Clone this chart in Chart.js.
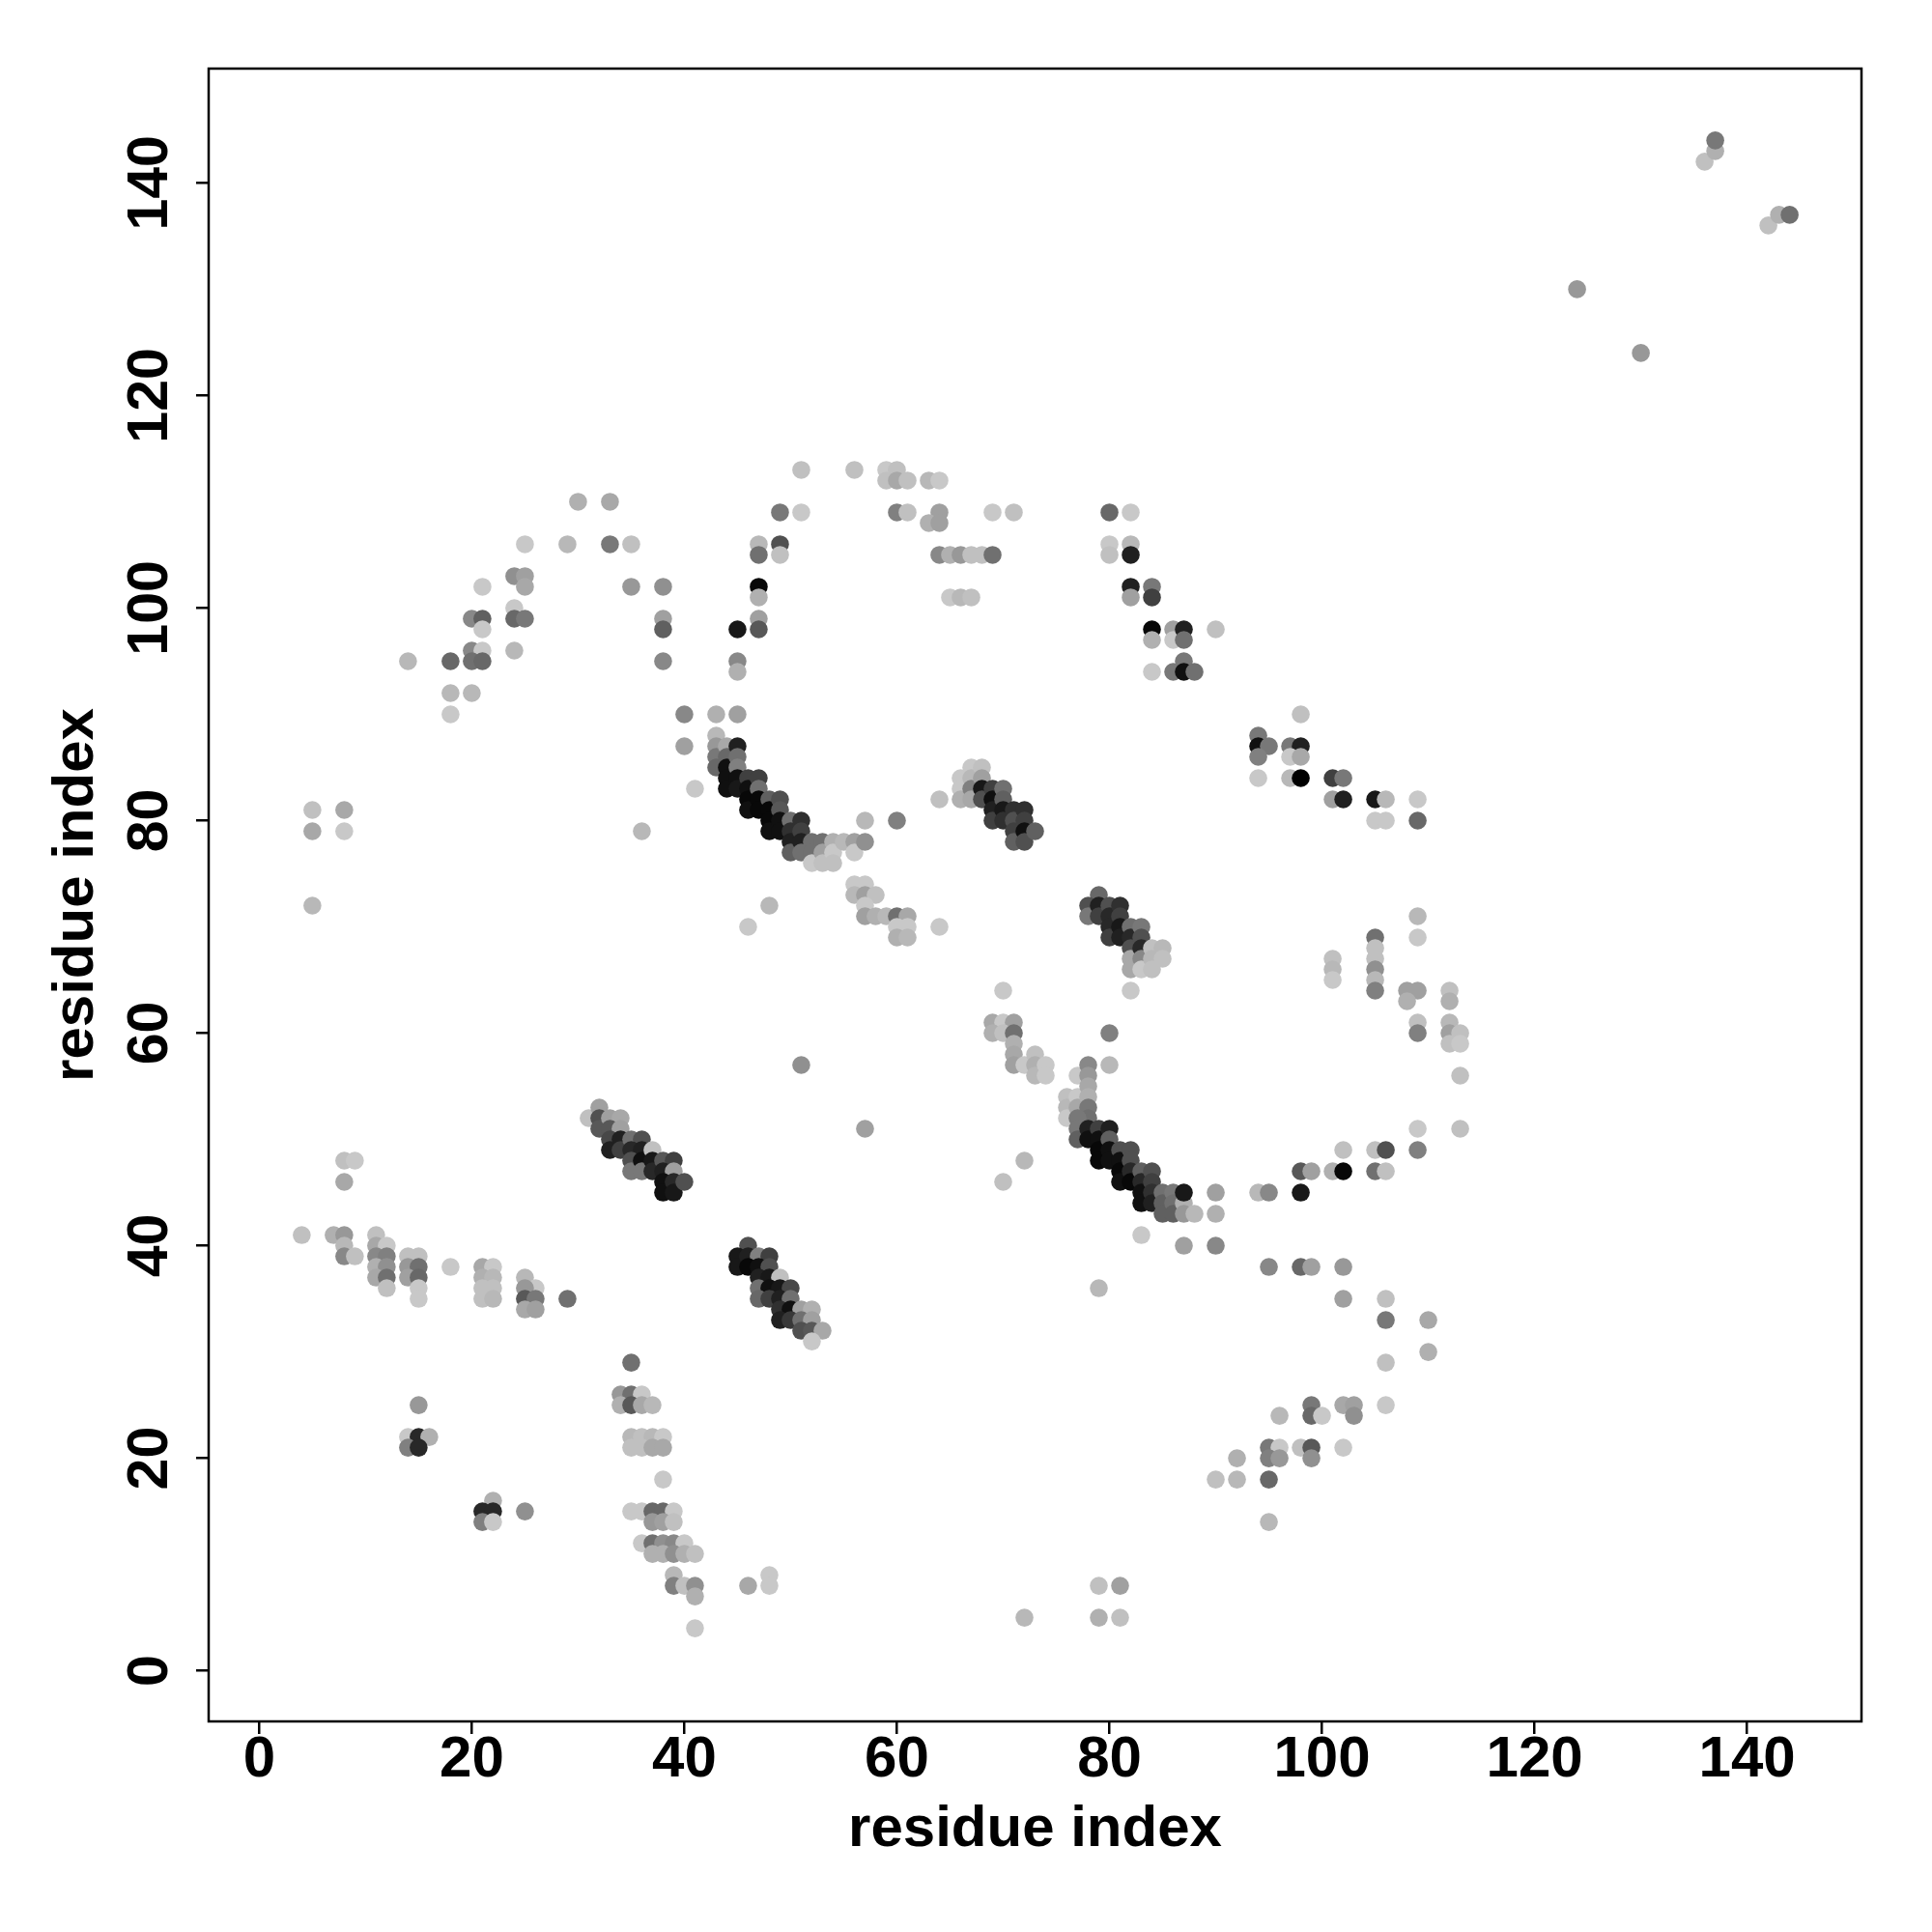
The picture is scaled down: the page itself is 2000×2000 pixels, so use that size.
<!DOCTYPE html>
<html>
<head>
<meta charset="utf-8">
<script src="https://cdn.jsdelivr.net/npm/chart.js@4.4.1/dist/chart.umd.min.js"></script>
<style>
  html, body { margin: 0; padding: 0; background: #ffffff; }
  #c { display: block; }
</style>
</head>
<body>
<canvas id="c" width="2000" height="2000"></canvas>
<script>
// ---- data: [residue i, residue j, gray level 0..255] ----
const tickValues = [0, 20, 40, 60, 80, 100, 120, 140];
const axisTitle = 'residue index';
const axisMin = -4.76, axisMax = 150.76;

const arcUpperLeft = [
  [30,110,176],[33,110,168],
  [25,106,200],[29,106,184],[33,106,120],[35,106,192],
  [24,103,144],[25,103,160],[25,102,168],[21,102,200],[35,102,152],[38,102,144],
  [24,100,200],[20,99,136],[21,99,96],[24,99,104],[25,99,120],[38,99,160],
  [21,98,200],[38,98,96],
  [20,96,136],[21,96,200],[24,96,184],
  [14,95,184],[18,95,104],[20,95,112],[21,95,104],[38,95,136],
  [18,92,184],[20,92,184],[18,90,200],
  [5,81,192],[8,81,168],[5,79,168],[8,79,200],[36,79,184],[5,72,184]
];
const arcTopMiddle = [
  [51,113,192],[56,113,192],[59,113,200],[60,113,192],[59,112,192],[60,112,168],[61,112,192],[63,112,184],[64,112,200],
  [49,109,120],[51,109,200],[60,109,128],[61,109,192],[64,109,160],[63,108,176],[64,108,160],[69,109,200],[71,109,192],
  [47,106,184],[47,105,112],[49,106,80],[49,105,192],
  [64,105,136],[65,105,176],[66,105,152],[67,105,192],[68,105,192],[69,105,112],
  [65,101,200],[66,101,184],[67,101,192],
  [47,102,8],[47,101,176],[47,99,160],[47,98,88],[45,98,24],[45,95,136],[45,94,176],
  [40,90,136],[43,90,176],[45,90,160],[40,87,160],[41,83,200],
  [57,80,184],[60,80,128],[64,82,192]
];
const arcTopRight = [
  [80,109,104],[82,109,200],[80,106,200],[80,105,192],[82,106,184],[82,105,32],
  [82,102,32],[82,101,160],[84,102,120],[84,101,64],
  [84,98,8],[84,97,176],[86,98,160],[86,97,200],[87,98,32],[87,97,112],[90,98,192],
  [84,94,200],[86,94,120],[87,95,120],[87,94,16],[88,94,112],
  [98,90,192],[94,88,120],[94,87,16],[95,87,120],[94,86,128],[97,87,120],[98,87,32],[97,86,200],[98,86,168],
  [94,84,200],[97,84,184],[98,84,0],[101,84,64],[102,84,120],[101,82,160],[102,82,32],
  [105,82,24],[106,82,184],[109,82,200],[105,80,200],[106,80,200],[109,80,104]
];
const leftLower = [
  [8,48,192],[9,48,200],[8,46,168],
  [4,41,192],[7,41,176],[8,41,152],[11,41,192],
  [8,40,184],[8,39,136],[9,39,192],
  [11,40,168],[12,40,200],[11,39,136],[12,39,128],[11,38,176],[12,38,144],[11,37,168],[12,37,112],[12,36,192],
  [14,39,192],[15,39,192],[14,38,152],[15,38,112],[14,37,160],[15,37,104],[15,36,200],[15,35,200],
  [18,38,200],
  [21,38,168],[22,38,200],[21,37,176],[22,37,184],[21,36,192],[22,36,192],[21,35,192],[22,35,184],
  [25,37,184],[26,36,200],[25,36,152],[25,35,88],[26,35,120],[25,34,168],[26,34,160],
  [29,35,112],
  [15,25,152],[14,22,200],[15,22,40],[16,22,176],[14,21,128],[15,21,40],
  [22,16,176],[21,15,40],[22,15,40],[21,14,128],[22,14,200],[25,15,144]
];
const stripLower = [
  [35,29,112],
  [34,26,152],[35,26,112],[36,26,200],[34,25,176],[35,25,88],[36,25,168],[37,25,184],
  [35,22,184],[36,22,192],[37,22,184],[38,22,200],[35,21,192],[36,21,192],[37,21,168],[38,21,168],
  [38,18,200],
  [35,15,200],[36,15,200],[37,15,104],[38,15,104],[39,15,200],[37,14,152],[38,14,160],[39,14,192],
  [36,12,200],[37,12,112],[38,12,144],[39,12,136],[40,12,200],[37,11,176],[38,11,176],[39,11,144],[40,11,176],[41,11,192],
  [39,9,184],[39,8,128],[40,8,192],[41,8,144],[41,7,176],[41,4,200],
  [46,8,168],[48,9,200],[48,8,200]
];
const band31to40 = [
  [31,52,192],[32,53,160],[32,52,80],[32,51,88],[33,52,160],[34,52,168],[33,51,88],[34,51,160],
  [33,50,72],[33,49,32],[34,50,32],[34,49,64],
  [35,50,112],[36,50,80],[35,49,40],[36,49,32],[35,48,80],[35,47,120],[36,48,16],[36,47,120],
  [37,49,192],[37,48,24],[37,47,40],
  [38,48,88],[39,48,64],[38,47,32],[39,47,160],[38,46,16],[38,45,16],[39,46,40],[39,45,24],[40,46,80]
];
const band45to53 = [
  [46,40,80],[45,39,24],[45,38,24],[46,39,32],[47,39,128],[48,39,64],[46,38,8],[47,38,16],[48,38,80],
  [47,37,32],[48,37,24],[49,37,192],[47,36,112],[48,36,16],[49,36,24],[50,36,72],
  [47,35,104],[48,35,64],[49,35,32],[50,35,112],
  [49,34,48],[50,34,16],[51,34,160],[52,34,176],
  [49,33,32],[50,33,56],[51,33,112],[52,33,160],
  [51,32,80],[52,32,88],[53,32,168],[52,31,200]
];
const band43to57 = [
  [43,88,184],[43,87,152],[43,86,120],[43,85,104],
  [44,87,168],[44,86,104],[44,85,16],[44,84,16],[44,83,16],
  [45,87,32],[45,86,112],[45,85,128],[45,84,16],[45,83,24],
  [46,84,64],[46,83,16],[46,82,8],[46,81,16],
  [47,84,64],[47,83,112],[47,82,8],[47,81,8],
  [48,82,96],[48,81,8],[48,80,8],[48,79,16],
  [49,82,80],[49,81,88],[49,80,16],[49,79,16],
  [50,80,112],[50,79,48],[50,78,32],[50,77,96],
  [51,80,48],[51,79,64],[51,78,32],[51,77,112],
  [52,78,112],[52,77,112],[52,76,200],
  [53,78,112],[53,77,160],[53,76,192],
  [54,78,176],[54,77,200],[54,76,192],
  [55,78,184],[56,78,160],[56,77,200],[57,78,144]
];
const strip56to64 = [
  [56,74,200],[57,74,200],[56,73,184],[57,73,160],[58,73,192],[57,72,200],
  [57,71,160],[58,71,176],[59,71,184],[60,71,112],[61,71,168],
  [60,70,200],[61,70,200],[60,69,176],[61,69,184],[64,70,200],
  [48,72,184],[46,70,200]
];
const band66to73 = [
  [66,84,200],[66,83,200],[66,82,176],
  [67,85,200],[67,84,184],[67,83,128],[67,82,168],
  [68,85,192],[68,84,160],[68,83,24],[68,82,80],
  [69,83,64],[69,82,16],[69,81,32],[69,80,64],
  [70,83,112],[70,82,96],[70,81,24],[70,80,48],
  [71,81,48],[71,80,80],[71,79,64],[71,78,96],
  [72,81,48],[72,80,64],[72,79,16],[72,78,80],
  [73,79,96]
];
const band78to85 = [
  [79,73,104],[78,72,80],[78,71,120],[79,72,32],[79,71,64],
  [80,72,80],[80,71,40],[80,70,40],[80,69,64],
  [81,72,48],[81,71,64],[81,70,24],[81,69,32],
  [82,70,112],[82,69,40],[82,68,80],[82,67,168],[82,66,168],
  [83,70,120],[83,69,80],[83,68,40],[83,67,136],[83,66,200],
  [84,68,192],[85,68,184],[84,67,184],[85,67,192],[84,66,192],
  [82,64,200]
];
const strip69to74 = [
  [70,64,200],[69,61,168],[70,61,200],[71,61,160],[69,60,176],[70,60,192],[71,60,112],
  [71,59,176],[71,58,168],[71,57,160],[72,57,200],[73,58,192],[73,57,176],[73,56,184],[74,57,200],[74,56,200],
  [51,57,144],[57,51,160],[70,46,192],[72,48,184],[80,60,128],[80,57,184]
];
const band76to88 = [
  [77,56,200],[76,54,192],[76,53,184],[76,52,200],[77,54,200],[77,53,168],
  [78,57,136],[78,56,152],[78,55,168],[78,54,176],[78,53,120],[78,52,112],
  [77,52,120],[77,51,120],[77,50,96],
  [78,51,32],[78,50,16],
  [79,51,64],[79,50,16],[79,49,8],[79,48,8],
  [80,51,32],[80,50,96],[80,49,16],[80,48,16],
  [81,49,80],[81,48,16],[81,47,8],[81,46,16],
  [82,49,80],[82,48,80],[82,47,40],[82,46,8],
  [83,47,96],[83,46,40],[83,45,16],[83,44,16],
  [84,47,80],[84,46,64],[84,45,48],[84,44,32],
  [85,45,112],[85,44,96],[85,43,96],
  [86,45,120],[86,44,112],[86,43,96],
  [87,44,176],[87,43,152],[88,43,184],
  [87,45,24],[90,45,160],[90,43,176],[87,40,160],[90,40,136],[83,41,200],[79,36,184]
];
const arcRight = [
  [109,71,184],[109,69,200],
  [105,69,112],[105,68,192],[105,67,192],[105,66,144],[105,65,184],[105,64,128],
  [101,67,192],[101,66,184],[101,65,200],
  [108,64,160],[109,64,160],[108,63,176],[112,64,192],[112,63,176],
  [109,61,192],[109,60,128],[112,61,184],[112,60,160],[113,60,192],[112,59,192],[113,59,200],
  [113,56,192],[109,51,200],[113,51,192],[109,49,128],
  [105,49,192],[106,49,80],[102,49,192],
  [98,47,88],[99,47,160],[101,47,176],[102,47,8],[105,47,112],[106,47,192],
  [98,45,24],[94,45,184],[95,45,136]
];
const arcLowerRight = [
  [95,38,136],[98,38,104],[99,38,160],[102,38,152],
  [102,35,160],[106,35,192],[106,33,120],[110,33,168],[110,30,176],[106,29,192],
  [99,25,120],[102,25,168],[103,25,160],[106,25,200],
  [96,24,184],[99,24,104],[100,24,200],[103,24,144],
  [95,21,120],[96,21,200],[98,21,192],[99,21,88],[102,21,200],
  [95,20,128],[96,20,152],[99,20,144],[92,20,176],
  [90,18,192],[92,18,184],[95,18,104],[95,14,184],
  [79,8,192],[81,8,160],[79,5,176],[81,5,192],[72,5,184]
];
const cTerminal = [
  [124,130,152],[130,124,152],[136,142,192],[137,143,176],[137,144,120],[142,136,192],[143,137,176],[144,137,112]
];

const contactGroups = [arcUpperLeft, arcTopMiddle, arcTopRight, leftLower, stripLower,
  band31to40, band45to53, band43to57, strip56to64, band66to73, band78to85,
  strip69to74, band76to88, arcRight, arcLowerRight, cTerminal];

const points = [];
const colors = [];
contactGroups.forEach(g => g.forEach(([i, j, s]) => {
  points.push({ x: i, y: j });
  colors.push('rgb(' + s + ',' + s + ',' + s + ')');
}));

const FONT = '"Liberation Sans", Arial, Helvetica, sans-serif';

const framePlugin = {
  id: 'frame',
  beforeDraw(chart) {
    const ctx = chart.ctx;
    ctx.save();
    ctx.fillStyle = '#ffffff';
    ctx.fillRect(0, 0, chart.width, chart.height);
    ctx.restore();
  },
  afterDraw(chart) {
    const ctx = chart.ctx;
    const a = chart.chartArea;
    ctx.save();
    ctx.strokeStyle = '#000000';
    ctx.lineWidth = 2.5;
    ctx.strokeRect(a.left, a.top, a.right - a.left, a.bottom - a.top);
    // y tick labels, parallel to the axis (reading bottom to top)
    const ys = chart.scales.y;
    ctx.fillStyle = '#000000';
    ctx.font = 'bold 59px ' + FONT;
    ctx.textAlign = 'center';
    ctx.textBaseline = 'alphabetic';
    tickValues.forEach(v => {
      const py = ys.getPixelForValue(v);
      ctx.save();
      ctx.translate(173, py);
      ctx.rotate(-Math.PI / 2);
      ctx.fillText(String(v), 0, 0);
      ctx.restore();
    });
    ctx.restore();
  }
};

const setTicks = (scale) => { scale.ticks = tickValues.map(v => ({ value: v })); };

new Chart(document.getElementById('c'), {
  type: 'scatter',
  data: {
    datasets: [{
      data: points,
      backgroundColor: colors,
      borderWidth: 0,
      pointRadius: 9.3,
      pointHoverRadius: 9.3
    }]
  },
  options: {
    responsive: false,
    animation: false,
    devicePixelRatio: 1,
    events: [],
    layout: { padding: { top: 71, right: 73, left: 0, bottom: 0 } },
    plugins: { legend: { display: false }, tooltip: { enabled: false } },
    scales: {
      x: {
        type: 'linear',
        min: axisMin, max: axisMax,
        afterBuildTicks: setTicks,
        afterFit: (s) => { s.height = 218; },
        grid: { drawOnChartArea: false, drawTicks: true, tickLength: 13, color: '#000', lineWidth: 2.5 },
        border: { display: false },
        ticks: {
          color: '#000',
          padding: -3,
          maxRotation: 0,
          font: { family: FONT, size: 60, weight: 'bold', lineHeight: 1 }
        },
        title: {
          display: true, text: axisTitle, color: '#000',
          font: { family: FONT, size: 60, weight: 'bold', lineHeight: 1 },
          padding: { top: 0, bottom: 76 }
        }
      },
      y: {
        type: 'linear',
        min: axisMin, max: axisMax,
        afterBuildTicks: setTicks,
        afterFit: (s) => { s.width = 216; },
        grid: { drawOnChartArea: false, drawTicks: true, tickLength: 13, color: '#000', lineWidth: 2.5 },
        border: { display: false },
        ticks: { display: false },
        title: {
          display: true, text: axisTitle, color: '#000',
          font: { family: FONT, size: 60, weight: 'bold', lineHeight: 1 },
          padding: { top: 49, bottom: 0 }
        }
      }
    }
  },
  plugins: [framePlugin]
});
</script>
</body>
</html>
